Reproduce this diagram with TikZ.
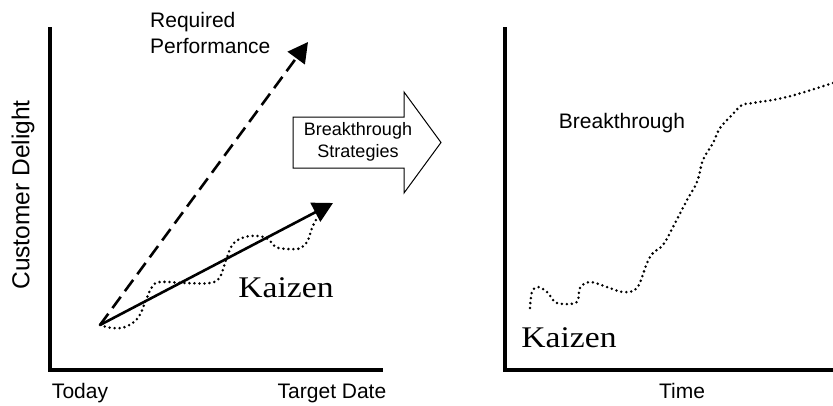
\documentclass[tikz,border=0pt]{standalone}
\usepackage{fontspec}
\setmainfont{Liberation Sans}
\newfontfamily\kzfont[FakeStretch=1.12]{Liberation Serif}
\usetikzlibrary{arrows.meta}
\begin{document}
\begin{tikzpicture}[x=1pt,y=-1pt,
  axis/.style={line width=4pt},
  dotline/.style={line width=2.8pt, dash pattern=on 0pt off 5pt, line cap=round},
  lbl/.style={font=\fontsize{21}{26}\selectfont, inner sep=0pt},
  boxtxt/.style={font=\fontsize{18}{22}\selectfont, inner sep=0pt, align=center},
  kz/.style={font=\kzfont\fontsize{30}{30}\selectfont, inner sep=0pt},
  bigarrow/.style={line width=2.6pt, -{Triangle[length=20pt,width=21pt]}}]
\useasboundingbox (0,0) rectangle (833,405);

% left chart axes
\coordinate (ltop) at (50,27);
\coordinate (lorig) at (50,370);
\coordinate (lend) at (383,370);
\draw[axis] (ltop) -- (lorig) -- (lend);

% right chart axes
\coordinate (rtop) at (505,27);
\coordinate (rorig) at (505,370);
\coordinate (rend) at (840,370);
\draw[axis] (rtop) -- (rorig) -- (rend);

% labels left
\node[lbl, rotate=90, font=\fontsize{24.5}{28}\selectfont] (ylab) at (23,195) {Customer Delight};
\node[lbl, anchor=base] (today) at (80,398) {Today};
\node[lbl, anchor=base] (target) at (332,398) {Target Date};
\node[lbl, anchor=north west, align=left] (req) at (150,12) {Required\\Performance};
\node[kz, anchor=base] (kzl) at (286,297) {Kaizen};

% labels right
\node[lbl, anchor=base] (time) at (682,398) {Time};
\node[lbl, anchor=base] (brk) at (622,128) {Breakthrough};
\node[kz, anchor=base] (kzr) at (569,347) {Kaizen};

% arrows left
\coordinate (o) at (100,325);
\coordinate (rp) at (308,42);
\coordinate (kt) at (333,203);
\draw[bigarrow, dash pattern=on 14pt off 7pt] (o) -- (rp);
\draw[bigarrow] (o) -- (kt);

% dotted kaizen wave left
\draw[dotline] plot[smooth, tension=0.6] coordinates {(100,325) (112,328) (125,327) (138,318) (146,300) (152,287) (160,282) (185,283) (210,283) (220,277) (226,260) (233,244) (245,237) (258,236) (268,239) (276,247) (288,249) (301,248) (308,240) (312,228) (318,216)};

% dotted breakthrough curve right
\draw[dotline] plot[smooth, tension=0.6] coordinates {(530,308) (532,292) (538,287) (547,292) (555,302) (563,304) (577,302) (580,288) (590,282) (607,287) (623,292) (637,288) (647,263) (653,253) (663,245) (673,227) (687,200) (697,182) (703,160) (713,143) (720,128) (732,115) (742,105) (753,103) (787,97) (833,83)};

% breakthrough strategies block arrow
\draw[line width=1pt, line join=miter] (293,117) -- (404,117) -- (404,92) -- (441,142.5) -- (404,193) -- (404,168) -- (293,168) -- cycle;
\node[boxtxt] (bs) at (358,142) {Breakthrough\\Strategies};
\end{tikzpicture}
\end{document}
